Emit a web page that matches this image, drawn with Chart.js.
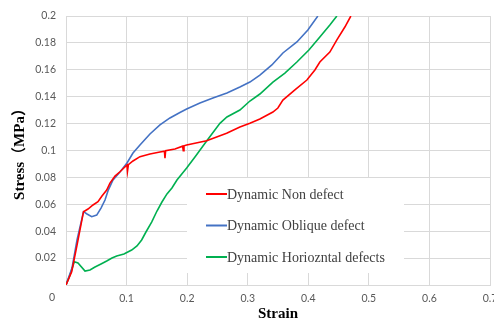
<!DOCTYPE html>
<html>
<head>
<meta charset="utf-8">
<script src="https://cdn.jsdelivr.net/npm/chart.js@4.4.1/dist/chart.umd.min.js"></script>
<style>
  html, body { margin: 0; padding: 0; background: #fff; }
  canvas { display: block; }
</style>
</head>
<body>
<canvas id="chart" width="494" height="323"></canvas>
<script>
// dados (strain x stress)
const nonStrain = [0, 0.0094, 0.0182, 0.0289, 0.0363, 0.0446, 0.0528, 0.0594, 0.0672, 0.0726, 0.0809, 0.0891, 0.1007, 0.1015, 0.103, 0.1106, 0.1221, 0.1386, 0.1551, 0.1625, 0.1634, 0.1645, 0.1799, 0.1925, 0.1936, 0.1948, 0.1992, 0.2322, 0.2652, 0.2871, 0.3036, 0.3201, 0.3416, 0.3498, 0.3581, 0.3779, 0.3977, 0.4109, 0.4191, 0.4356, 0.4472, 0.4604, 0.4703];
const nonStress = [0, 0.0099, 0.0297, 0.0545, 0.0565, 0.0595, 0.0619, 0.0662, 0.0706, 0.0758, 0.081, 0.0842, 0.0892, 0.0845, 0.0895, 0.0922, 0.0954, 0.0974, 0.0989, 0.0995, 0.0942, 0.0998, 0.1011, 0.1032, 0.0998, 0.1035, 0.1041, 0.1073, 0.1128, 0.1175, 0.1202, 0.1234, 0.1286, 0.1316, 0.1375, 0.145, 0.1524, 0.1599, 0.1658, 0.1732, 0.1822, 0.1918, 0.2];

const obliqueStrain = [0, 0.0099, 0.0182, 0.0289, 0.0347, 0.0424, 0.0507, 0.0578, 0.0644, 0.0698, 0.0776, 0.0891, 0.1007, 0.1106, 0.1221, 0.1386, 0.1551, 0.1716, 0.1881, 0.1992, 0.2211, 0.2426, 0.2657, 0.2871, 0.3036, 0.3201, 0.3399, 0.3581, 0.3812, 0.3993, 0.4158];
const obliqueStress = [0, 0.0126, 0.0335, 0.0545, 0.0528, 0.0508, 0.052, 0.0572, 0.0632, 0.0706, 0.0781, 0.084, 0.0907, 0.0981, 0.1041, 0.1123, 0.119, 0.1242, 0.1283, 0.1309, 0.1353, 0.139, 0.1428, 0.1472, 0.1509, 0.1561, 0.1636, 0.1725, 0.1807, 0.1896, 0.2];

const horizStrain = [0, 0.0066, 0.0137, 0.0198, 0.0314, 0.0396, 0.0479, 0.0578, 0.0672, 0.0759, 0.0837, 0.0957, 0.1084, 0.1172, 0.1249, 0.132, 0.1414, 0.1502, 0.1584, 0.1667, 0.1749, 0.1832, 0.1992, 0.2129, 0.2322, 0.2541, 0.2657, 0.2871, 0.3036, 0.3201, 0.3416, 0.3614, 0.3812, 0.401, 0.4191, 0.4356, 0.4472];
const horizStress = [0, 0.0074, 0.0173, 0.0164, 0.0104, 0.0112, 0.0134, 0.0156, 0.0178, 0.0201, 0.0216, 0.023, 0.026, 0.029, 0.0335, 0.0394, 0.0468, 0.055, 0.0617, 0.0677, 0.0721, 0.0781, 0.087, 0.0952, 0.1071, 0.1202, 0.1249, 0.1301, 0.1368, 0.142, 0.1509, 0.1576, 0.1658, 0.1747, 0.1844, 0.1933, 0.2];

const seriesLabels = ['Dynamic Non defect', 'Dynamic Oblique defect', 'Dynamic Horiozntal defects'];
const seriesColors = ['#ff0000', '#4472c4', '#00b050'];

const xTitle = 'Strain';
const yTitle = 'Stress（MPa）';

function pts(xs, ys) {
  return xs.map((x, i) => ({ x: x, y: ys[i] }));
}

const tickFont = { family: 'Lato, "Liberation Sans", sans-serif', size: 10.5 };
const tickColor = '#595959';
const gridColor = '#d9d9d9';

// legenda desenhada dentro da área do gráfico, com fundo branco
const innerLegend = {
  id: 'innerLegend',
  afterDatasetsDraw(chart) {
    const ctx = chart.ctx;
    const a = chart.chartArea;
    const x0 = a.left + 121, y0 = a.top + 162, w = 217, h = 95;
    ctx.save();
    ctx.fillStyle = '#ffffff';
    ctx.fillRect(x0, y0, w, h);
    ctx.font = '14px "Liberation Serif", "Times New Roman", serif';
    ctx.textBaseline = 'middle';
    chart.data.datasets.forEach((ds, i) => {
      const y = y0 + 16 + i * 31.5;
      ctx.strokeStyle = ds.borderColor;
      ctx.lineWidth = 2;
      ctx.beginPath();
      ctx.moveTo(x0 + 19, y);
      ctx.lineTo(x0 + 40, y);
      ctx.stroke();
      ctx.fillStyle = '#404040';
      ctx.fillText(ds.label, x0 + 40, y + 1);
    });
    ctx.restore();
  },
  afterDraw(chart) {
    // rótulo "0" no canto da origem
    const ctx = chart.ctx;
    const a = chart.chartArea;
    ctx.save();
    ctx.font = tickFont.size + 'px ' + tickFont.family;
    ctx.fillStyle = tickColor;
    ctx.textAlign = 'center';
    ctx.textBaseline = 'middle';
    ctx.fillText('0', a.left - 14, a.bottom + 13);
    ctx.restore();
  }
};

const ctx = document.getElementById('chart').getContext('2d');
new Chart(ctx, {
  type: 'line',
  data: {
    datasets: [
      { label: seriesLabels[0], data: pts(nonStrain, nonStress), borderColor: seriesColors[0] },
      { label: seriesLabels[1], data: pts(obliqueStrain, obliqueStress), borderColor: seriesColors[1] },
      { label: seriesLabels[2], data: pts(horizStrain, horizStress), borderColor: seriesColors[2] }
    ].map(d => Object.assign(d, { borderWidth: 1.6, pointRadius: 0, tension: 0, fill: false }))
  },
  options: {
    responsive: false,
    animation: false,
    layout: { padding: { top: 16, right: 4, left: 0, bottom: 0 } },
    plugins: { legend: { display: false }, tooltip: { enabled: false } },
    scales: {
      x: {
        type: 'linear',
        min: 0,
        max: 0.7,
        grid: { color: gridColor, drawTicks: false },
        border: { color: gridColor },
        ticks: {
          stepSize: 0.1,
          padding: 7,
          color: tickColor,
          font: tickFont,
          maxRotation: 0,
          callback: v => (v === 0 ? '' : String(Number(v.toFixed(1))))
        },
        title: {
          display: true,
          text: xTitle,
          color: '#000',
          font: { family: '"Liberation Serif", "Times New Roman", serif', size: 15, weight: 'bold' },
          padding: { top: 0, bottom: 0 }
        },
        afterFit(scale) {
          scale.height = 38;
          scale.paddingLeft = 0;
          scale.paddingRight = 0;
        }
      },
      y: {
        type: 'linear',
        min: 0,
        max: 0.2,
        grid: { color: gridColor, drawTicks: false },
        border: { color: gridColor },
        ticks: {
          stepSize: 0.02,
          padding: 10,
          color: tickColor,
          font: tickFont,
          callback: v => (v === 0 ? '' : String(Number(v.toFixed(2))))
        },
        title: {
          display: true,
          text: yTitle,
          color: '#000',
          font: { family: '"Liberation Serif", "Noto Sans CJK SC", serif', size: 15, weight: 'bold' },
          padding: { top: 11, bottom: 0 }
        },
        afterFit(scale) {
          scale.width = 66;
          scale.paddingTop = 0;
          scale.paddingBottom = 0;
        }
      }
    }
  },
  plugins: [innerLegend]
});
</script>
</body>
</html>
